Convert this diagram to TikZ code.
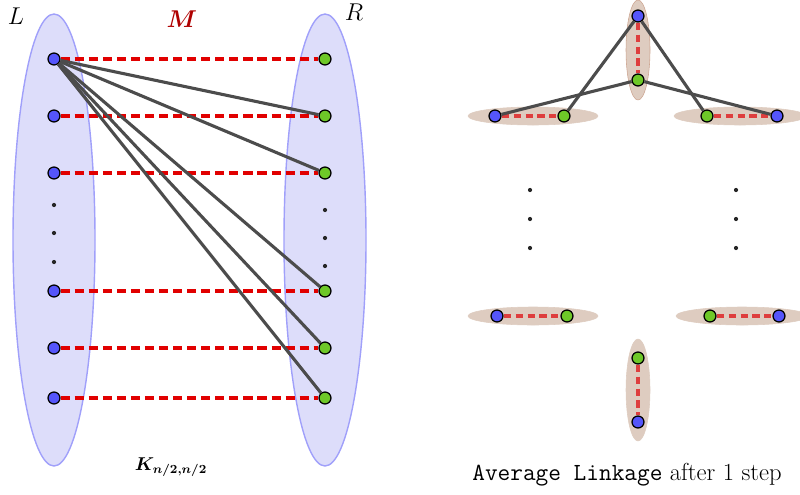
\documentclass[tikz,border=0pt]{standalone}
\usepackage{amsmath}
\usepackage{amssymb}
\usepackage{bm}
\usetikzlibrary{arrows}

\definecolor{lblue}{RGB}{85,85,250}
\definecolor{lgreen}{RGB}{110,200,40}
\definecolor{setfill}{RGB}{221,221,250}
\definecolor{setline}{RGB}{160,160,250}
\definecolor{clfill}{RGB}{222,204,192}
\definecolor{clline}{RGB}{205,165,145}
\definecolor{mred}{RGB}{225,0,0}
\definecolor{mdark}{RGB}{175,0,0}
\definecolor{cred}{RGB}{222,62,62}

\begin{document}
\begin{tikzpicture}[x=0.025cm,y=-0.025cm,
	lv/.style={circle,draw=black,fill=lblue,inner sep=0pt,minimum size=8.5pt,line width=0.9pt},
	rv/.style={lv,fill=lgreen},
	match/.style={mred,line width=2.8pt,dash pattern=on 6.5pt off 3.5pt},
	cmatch/.style={cred,line width=2.5pt,dash pattern=on 5pt off 3.5pt},
	link/.style={black!70,line width=2.2pt},
	vdot/.style={circle,fill=black!85,inner sep=0pt,minimum size=3pt},
	big/.style={font=\fontsize{17.5}{21}\selectfont}]
	\useasboundingbox (0,0) rectangle (800,494);
	\filldraw[fill=setfill,draw=setline,line width=1pt] (54,240) ellipse (41 and 226);
	\filldraw[fill=setfill,draw=setline,line width=1pt] (325,240) ellipse (41 and 226);
	\filldraw[fill=clfill,draw=clline,line width=0.4pt] (638,50) ellipse (12 and 50);
	\filldraw[fill=clfill,draw=clfill] (533,116) ellipse (65 and 9);
	\filldraw[fill=clfill,draw=clfill] (740,116) ellipse (66 and 9);
	\filldraw[fill=clfill,draw=clfill] (533,316) ellipse (65 and 9);
	\filldraw[fill=clfill,draw=clfill] (742,316) ellipse (66 and 9);
	\filldraw[fill=clfill,draw=clfill] (638,390) ellipse (12 and 51);

	\node[big] (setL) at (16,16) {$L$};
	\node[big] (setR) at (354,12) {$R$};
	\node[big,text=mdark] (mlab) at (182,19) {$\bm{M}$};
	\node[font=\fontsize{12}{14}\selectfont,scale=1.1] (klab) at (171,467) {$\bm{K_{n/2,n/2}}$};
	\node[big] (alab) at (627,475) {\texttt{Average Linkage} after 1 step};

	\foreach \i/\y in {1/59,2/116,3/173,4/291,5/348,6/398} {
		\node[lv] (l\i) at (54,\y) {};
		\node[rv] (r\i) at (325,\y) {};
		\draw[match] (l\i) -- (r\i);
	}
	\foreach \i/\y in {1/205,2/233,3/262} \node[vdot] (ld\i) at (54,\y) {};
	\foreach \i/\y in {1/210,2/238,3/266} \node[vdot] (rd\i) at (325,\y) {};
	\foreach \j in {2,...,6} \draw[link] (l1) -- (r\j);

	\node[lv] (a1) at (638,16) {};
	\node[rv] (a2) at (638,80) {};
	\node[lv] (b1) at (495,116) {};
	\node[rv] (b2) at (564,116) {};
	\node[rv] (c2) at (707,116) {};
	\node[lv] (c1) at (777,116) {};
	\node[lv] (d1) at (497,316) {};
	\node[rv] (d2) at (567,316) {};
	\node[rv] (e2) at (710,316) {};
	\node[lv] (e1) at (779,316) {};
	\node[rv] (f2) at (638,358) {};
	\node[lv] (f1) at (638,422) {};
	\foreach \a/\b in {a1/a2,b1/b2,c2/c1,d1/d2,e2/e1,f2/f1} \draw[cmatch] (\a) -- (\b);
	\draw[link] (a1) -- (b2);
	\draw[link] (a1) -- (c2);
	\draw[link] (a2) -- (b1);
	\draw[link] (a2) -- (c1);
	\foreach \i/\y in {1/190,2/219,3/248} {
		\node[vdot] (pd\i) at (530,\y) {};
		\node[vdot] (qd\i) at (736,\y) {};
	}
\end{tikzpicture}
\end{document}
